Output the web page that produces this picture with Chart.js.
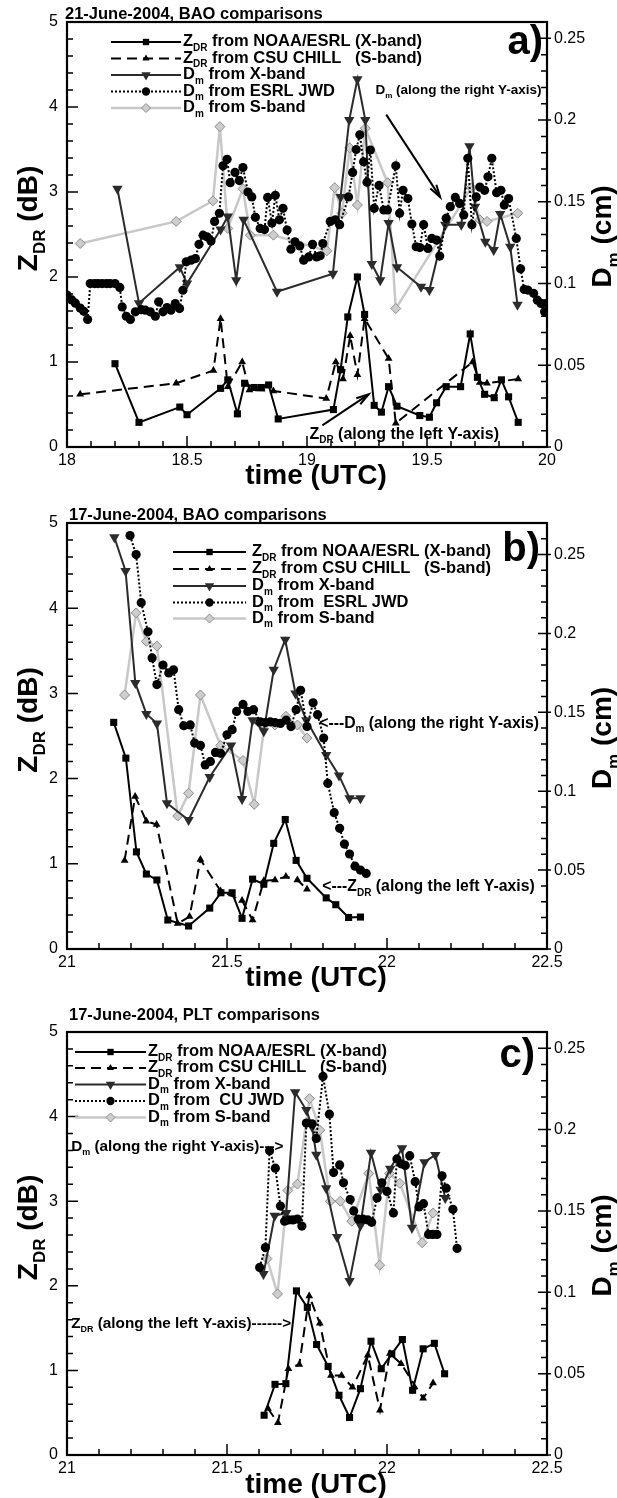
<!DOCTYPE html>
<html>
<head>
<meta charset="utf-8">
<script src="https://cdn.jsdelivr.net/npm/chart.js@4.4.1/dist/chart.umd.min.js"></script>
<style>
  body { margin: 0; background: #fff; width: 617px; height: 1498px; position: relative; overflow: hidden; }
  canvas { position: absolute; left: 0; }
</style>
</head>
<body>
<canvas id="chartA" width="617" height="500" style="top:0px"></canvas>
<canvas id="chartB" width="617" height="500" style="top:500px"></canvas>
<canvas id="chartC" width="617" height="498" style="top:1000px"></canvas>
<script>
// ---- data: [time (UTC), value] ----
// panel a) 21-June-2004, BAO
const aZdrNoaa = [[18.20,0.98],[18.30,0.29],[18.47,0.47],[18.50,0.38],[18.64,0.69],[18.67,0.79],[18.71,0.39],[18.74,0.75],[18.78,0.70],[18.81,0.70],[18.84,0.73],[18.88,0.33],[19.11,0.44],[19.14,0.91],[19.17,1.53],[19.21,2.0],[19.24,1.56],[19.28,0.49],[19.31,0.41],[19.34,0.71],[19.375,0.48],[19.47,0.37],[19.51,0.35],[19.54,0.52],[19.58,0.71],[19.64,0.71],[19.68,1.33],[19.71,0.82],[19.74,0.62],[19.78,0.58],[19.81,0.79],[19.84,0.59],[19.88,0.29]];
const aZdrCsu = [[18.055,0.62],[18.455,0.75],[18.61,0.90],[18.64,1.51],[18.67,0.71],[18.73,1.0],[18.76,0.67],[18.86,0.66],[19.08,0.57],[19.12,1.0],[19.15,0.80],[19.18,1.31],[19.21,0.85],[19.24,1.51],[19.34,1.04],[19.37,0.28],[19.69,1.0],[19.72,0.76],[19.75,0.75],[19.88,0.80]];
const aDmX = [[18.21,0.158],[18.30,0.088],[18.47,0.110],[18.50,0.100],[18.64,0.133],[18.67,0.141],[18.705,0.102],[18.736,0.139],[18.875,0.095],[19.108,0.106],[19.14,0.153],[19.176,0.200],[19.21,0.225],[19.243,0.200],[19.27,0.112],[19.305,0.102],[19.34,0.137],[19.375,0.110],[19.475,0.098],[19.51,0.096],[19.576,0.136],[19.643,0.136],[19.677,0.184],[19.70,0.147],[19.743,0.1255],[19.778,0.1205],[19.805,0.1425],[19.847,0.1225],[19.877,0.087]];
const aDmJwd = [[18.00,0.093],[18.02,0.090],[18.035,0.088],[18.055,0.085],[18.07,0.083],[18.086,0.078],[18.097,0.100],[18.115,0.100],[18.13,0.100],[18.147,0.100],[18.165,0.100],[18.18,0.100],[18.20,0.100],[18.22,0.0976],[18.23,0.0857],[18.247,0.080],[18.264,0.078],[18.285,0.0827],[18.31,0.084],[18.326,0.0837],[18.347,0.0827],[18.368,0.080],[18.382,0.0888],[18.40,0.0827],[18.417,0.0853],[18.433,0.0837],[18.451,0.0878],[18.469,0.0847],[18.483,0.0959],[18.497,0.1133],[18.517,0.1143],[18.535,0.1153],[18.55,0.124],[18.567,0.1296],[18.583,0.1286],[18.60,0.126],[18.615,0.138],[18.635,0.143],[18.65,0.172],[18.667,0.176],[18.68,0.1617],[18.70,0.168],[18.718,0.163],[18.733,0.171],[18.754,0.156],[18.77,0.153],[18.785,0.1405],[18.805,0.1337],[18.823,0.133],[18.836,0.1527],[18.854,0.137],[18.868,0.154],[18.885,0.139],[18.90,0.146],[18.917,0.1327],[18.933,0.121],[18.95,0.1255],[18.97,0.123],[18.986,0.1143],[19.007,0.1163],[19.023,0.124],[19.04,0.1163],[19.055,0.117],[19.066,0.1245],[19.097,0.138],[19.118,0.139],[19.136,0.136],[19.173,0.153],[19.19,0.168],[19.205,0.182],[19.22,0.191],[19.236,0.1745],[19.25,0.162],[19.264,0.1817],[19.28,0.146],[19.30,0.160],[19.32,0.145],[19.335,0.145],[19.37,0.172],[19.386,0.143],[19.40,0.157],[19.42,0.152],[19.437,0.1364],[19.455,0.1225],[19.47,0.122],[19.486,0.136],[19.504,0.1215],[19.52,0.1276],[19.54,0.1266],[19.553,0.1168],[19.58,0.140],[19.597,0.147],[19.618,0.1527],[19.636,0.149],[19.653,0.142],[19.67,0.1766],[19.687,0.136],[19.705,0.153],[19.72,0.159],[19.74,0.157],[19.754,0.1653],[19.77,0.1766],[19.79,0.1556],[19.808,0.157],[19.822,0.148],[19.84,0.152],[19.872,0.1276],[19.89,0.109],[19.905,0.0964],[19.92,0.096],[19.944,0.094],[19.96,0.0898],[19.975,0.0878],[19.99,0.0827],[20.0,0.0878]];
const aDmS = [[18.055,0.1245],[18.455,0.138],[18.608,0.1506],[18.637,0.196],[18.67,0.1337],[18.733,0.158],[18.764,0.1296],[18.86,0.1296],[19.083,0.120],[19.115,0.1586],[19.146,0.143],[19.178,0.183],[19.21,0.148],[19.243,0.195],[19.336,0.1617],[19.37,0.0847],[19.685,0.1586],[19.72,0.139],[19.75,0.138],[19.878,0.143]];

// panel b) 17-June-2004, BAO
const bZdrNoaa = [[21.146,2.66],[21.184,2.24],[21.217,1.14],[21.248,0.88],[21.281,0.81],[21.315,0.34],[21.38,0.27],[21.446,0.48],[21.481,0.66],[21.516,0.66],[21.547,0.36],[21.58,0.82],[21.615,0.76],[21.646,1.24],[21.682,1.52],[21.716,1.04],[21.75,0.83],[21.81,0.60],[21.84,0.52],[21.88,0.37],[21.917,0.375]];
const bZdrCsu = [[21.18,1.04],[21.213,1.79],[21.248,1.50],[21.28,1.46],[21.346,0.30],[21.383,0.38],[21.417,1.05],[21.48,0.68],[21.547,0.57],[21.58,0.34],[21.615,0.80],[21.65,0.81],[21.684,0.85],[21.72,0.81],[21.75,0.70]];
const bDmX = [[21.148,0.261],[21.183,0.2396],[21.2135,0.1686],[21.248,0.149],[21.281,0.143],[21.3125,0.0924],[21.38,0.0818],[21.446,0.109],[21.5125,0.129],[21.547,0.095],[21.58,0.145],[21.615,0.138],[21.646,0.177],[21.682,0.196],[21.714,0.162],[21.748,0.145],[21.81,0.123],[21.85,0.110],[21.883,0.0955],[21.917,0.0955]];
const bDmJwd = [[21.197,0.262],[21.216,0.250],[21.232,0.2195],[21.253,0.201],[21.266,0.1845],[21.281,0.1676],[21.30,0.180],[21.318,0.175],[21.333,0.177],[21.349,0.1517],[21.365,0.1415],[21.385,0.142],[21.399,0.1305],[21.417,0.129],[21.432,0.1167],[21.448,0.1189],[21.464,0.1246],[21.48,0.124],[21.50,0.1358],[21.516,0.139],[21.53,0.1506],[21.55,0.155],[21.565,0.1506],[21.583,0.1517],[21.604,0.144],[21.62,0.1435],[21.635,0.144],[21.65,0.1435],[21.667,0.143],[21.685,0.145],[21.70,0.141],[21.716,0.1517],[21.73,0.164],[21.75,0.141],[21.769,0.156],[21.783,0.1485],[21.802,0.1337],[21.815,0.105],[21.835,0.0864],[21.852,0.0765],[21.867,0.0665],[21.883,0.0602],[21.90,0.0525],[21.917,0.050],[21.935,0.0479]];
const bDmS = [[21.18,0.161],[21.216,0.213],[21.248,0.195],[21.281,0.192],[21.346,0.0843],[21.38,0.0987],[21.417,0.161],[21.48,0.129],[21.55,0.1195],[21.585,0.0917],[21.617,0.142],[21.65,0.142],[21.684,0.1475],[21.72,0.142],[21.75,0.1337]];

// panel c) 17-June-2004, PLT
const cZdrNoaa = [[21.616,0.47],[21.65,0.835],[21.684,0.843],[21.717,1.94],[21.751,1.745],[21.78,1.306],[21.816,1.047],[21.85,0.706],[21.883,0.443],[21.917,0.784],[21.95,1.345],[21.982,1.02],[22.015,1.196],[22.048,1.365],[22.08,0.765],[22.113,1.255],[22.148,1.32],[22.18,0.96]];
const cZdrCsu = [[21.628,0.55],[21.659,0.38],[21.692,1.02],[21.726,1.07],[21.757,1.88],[21.79,1.556],[21.825,0.94],[21.858,0.94],[21.892,0.80],[21.94,1.18],[21.978,0.53],[22.009,1.20],[22.044,1.08],[22.113,0.67],[22.144,0.85]];
const cDmX = [[21.614,0.1112],[21.649,0.147],[21.685,0.1488],[21.713,0.223],[21.748,0.212],[21.766,0.2017],[21.779,0.1845],[21.81,0.164],[21.844,0.134],[21.883,0.107],[21.917,0.141],[21.95,0.1858],[21.98,0.163],[22.01,0.176],[22.047,0.1885],[22.078,0.1397],[22.117,0.180],[22.151,0.1844],[22.182,0.158]];
const cDmJwd = [[21.602,0.1153],[21.62,0.1275],[21.633,0.187],[21.651,0.1763],[21.667,0.153],[21.68,0.1437],[21.693,0.1445],[21.706,0.1445],[21.72,0.145],[21.734,0.1407],[21.748,0.204],[21.766,0.2036],[21.779,0.1946],[21.80,0.2327],[21.82,0.2095],[21.833,0.1736],[21.852,0.1783],[21.864,0.1673],[21.885,0.157],[21.896,0.150],[21.91,0.145],[21.925,0.145],[21.94,0.1445],[21.952,0.143],[21.969,0.158],[21.984,0.1673],[22.0,0.162],[22.02,0.1488],[22.031,0.182],[22.044,0.179],[22.057,0.178],[22.071,0.184],[22.088,0.168],[22.10,0.1525],[22.114,0.1545],[22.13,0.1356],[22.143,0.1356],[22.156,0.1356],[22.172,0.1716],[22.185,0.164],[22.206,0.151],[22.219,0.127]];
const cDmS = [[21.625,0.1207],[21.658,0.099],[21.69,0.1626],[21.72,0.1665],[21.758,0.219],[21.79,0.1997],[21.823,0.156],[21.854,0.156],[21.89,0.1437],[21.943,0.173],[21.977,0.1167],[22.008,0.173],[22.04,0.167],[22.11,0.1305],[22.144,0.1487]];

const FONT = '"Liberation Sans", Arial, Helvetica, sans-serif';
const pts = arr => arr.map(p => ({ x: p[0], y: p[1] }));

// text with subscripts: parts = [[text, isSub], ...]
function richWidth(ctx, parts, size) {
  let w = 0;
  for (const [t, sub] of parts) {
    ctx.font = 'bold ' + (sub ? Math.round(size * 0.62) : size) + 'px ' + FONT;
    w += ctx.measureText(t).width;
  }
  return w;
}
function rich(ctx, x, y, parts, size) {
  let cx = x;
  for (const [t, sub] of parts) {
    ctx.font = 'bold ' + (sub ? Math.round(size * 0.62) : size) + 'px ' + FONT;
    ctx.fillText(t, cx, sub ? y + size * 0.28 : y);
    cx += ctx.measureText(t).width;
  }
}
function arrow(ctx, x0, y0, x1, y1) {
  ctx.beginPath(); ctx.moveTo(x0, y0); ctx.lineTo(x1, y1); ctx.stroke();
  const a = Math.atan2(y1 - y0, x1 - x0), L = 13, w = 0.28;
  ctx.beginPath();
  ctx.moveTo(x1 - L * Math.cos(a - w), y1 - L * Math.sin(a - w));
  ctx.lineTo(x1, y1);
  ctx.lineTo(x1 - L * Math.cos(a + w), y1 - L * Math.sin(a + w));
  ctx.stroke();
}

const ZDR = [['Z', 0], ['DR', 1]];
const DM = [['D', 0], ['m', 1]];

function makePanel(p) {
  const datasets = [
    { data: pts(p.jwd), yAxisID: 'y1', borderColor: '#000', backgroundColor: '#000', borderWidth: 2, borderDash: [2, 2],
      pointStyle: 'circle', pointRadius: 4.6, pointBorderWidth: 0 },
    { data: pts(p.dmX), yAxisID: 'y1', borderColor: '#2b2b2b', backgroundColor: '#2b2b2b', borderWidth: 2,
      pointStyle: 'triangle', pointRotation: 180, pointRadius: 6, pointBorderWidth: 0 },
    { data: pts(p.dmS), yAxisID: 'y1', borderColor: '#c8c8c8', backgroundColor: '#cdcdcd', pointBorderColor: '#8c8c8c',
      borderWidth: 2.5, pointStyle: 'rectRot', pointRadius: 5, pointBorderWidth: 1 },
    { data: pts(p.zNoaa), yAxisID: 'y', borderColor: '#000', backgroundColor: '#000', borderWidth: 2,
      pointStyle: 'rect', pointRadius: 5, pointBorderWidth: 0 },
    { data: pts(p.zCsu), yAxisID: 'y', borderColor: '#000', backgroundColor: '#000', borderWidth: 2, borderDash: [10, 6],
      pointStyle: 'triangle', pointRadius: 4.5, pointBorderWidth: 0 }
  ];
  // legend entries refer to datasets above, in the figure's order
  const legendOrder = [3, 4, 1, 0, 2];
  const legendText = [
    ZDR.concat([[' from NOAA/ESRL (X-band)', 0]]),
    ZDR.concat([[' from CSU CHILL   (S-band)', 0]]),
    DM.concat([[' from X-band', 0]]),
    DM.concat([[p.jwdName, 0]]),
    DM.concat([[' from S-band', 0]])
  ];

  const decor = {
    id: 'decor',
    afterDatasetsDraw(chart) {
      const { ctx, chartArea: a, scales } = chart;
      const sx = scales.x, sy = scales.y, sr = scales.y1;
      ctx.save();
      ctx.strokeStyle = '#000';
      ctx.lineWidth = 1.5;
      ctx.beginPath();
      // bottom ticks (inward)
      const nx = Math.round((p.xMax - p.xMin) / 0.1);
      for (let i = 0; i <= nx; i++) {
        const px = sx.getPixelForValue(p.xMin + i * 0.1);
        const len = i % 5 === 0 ? 11 : 6;
        ctx.moveTo(px, a.bottom); ctx.lineTo(px, a.bottom - len);
      }
      // left ticks
      for (let i = 0; i <= 25; i++) {
        const py = sy.getPixelForValue(i * 0.2);
        const len = i % 5 === 0 ? 11 : 6;
        ctx.moveTo(a.left, py); ctx.lineTo(a.left + len, py);
      }
      // right ticks
      for (let i = 0; i <= Math.floor(p.y1Max * 100 + 1e-6); i++) {
        const py = sr.getPixelForValue(i * 0.01);
        const len = i % 5 === 0 ? 9 : 6;
        ctx.moveTo(a.right, py); ctx.lineTo(a.right - len, py);
        if (i % 5 === 0) { ctx.moveTo(a.right, py); ctx.lineTo(a.right + 4, py); }
      }
      ctx.stroke();
      ctx.lineWidth = 2.2;
      ctx.strokeRect(a.left, a.top, a.right - a.left, a.bottom - a.top);
      ctx.restore();
    },
    afterDraw(chart) {
      const { ctx, chartArea: a, scales } = chart;
      const sx = scales.x, sy = scales.y;
      ctx.save();
      ctx.fillStyle = '#000';
      ctx.textBaseline = 'alphabetic';

      // title
      ctx.font = 'bold 16.5px ' + FONT;
      ctx.fillText(p.title, p.titleX, p.titleY);

      // panel tag
      ctx.font = 'bold 40px ' + FONT;
      ctx.textAlign = 'right';
      ctx.fillText(p.tag, p.tagX, p.tagY);
      ctx.textAlign = 'left';

      // legend
      const L = p.leg;
      legendOrder.forEach((di, k) => {
        const d = chart.data.datasets[di];
        const y = L.rows[k];
        ctx.save();
        ctx.strokeStyle = d.borderColor;
        ctx.lineWidth = d.borderWidth;
        ctx.setLineDash(d.borderDash || []);
        ctx.beginPath(); ctx.moveTo(L.x0, y); ctx.lineTo(L.x1, y); ctx.stroke();
        ctx.setLineDash([]);
        ctx.fillStyle = d.backgroundColor;
        ctx.strokeStyle = d.pointBorderColor || d.borderColor;
        ctx.lineWidth = d.pointBorderWidth;
        Chart.helpers.drawPoint(ctx, {
          pointStyle: d.pointStyle, radius: d.pointRadius * 0.9,
          rotation: d.pointRotation || 0, borderWidth: d.pointBorderWidth
        }, (L.x0 + L.x1) / 2, y);
        ctx.restore();
        rich(ctx, L.tx, y + 4, legendText[k], L.size);
      });

      // notes and arrows, placed in data coordinates
      p.notes.forEach(n => {
        rich(ctx, sx.getPixelForValue(n.t), sy.getPixelForValue(n.v) + n.size * 0.35, n.parts, n.size);
      });
      ctx.strokeStyle = '#000';
      ctx.lineWidth = 2;
      p.arrows.forEach(r => {
        arrow(ctx, sx.getPixelForValue(r[0]), sy.getPixelForValue(r[1]),
                   sx.getPixelForValue(r[2]), sy.getPixelForValue(r[3]));
      });

      // axis titles
      const big = 28;
      const tParts = [['time (UTC)', 0]];
      rich(ctx, p.timeX - richWidth(ctx, tParts, big) / 2, a.bottom + p.timeDy, tParts, big);

      const lParts = ZDR.concat([[' (dB)', 0]]);
      ctx.save();
      ctx.translate(27, (a.top + a.bottom) / 2 - 16);
      ctx.rotate(-Math.PI / 2);
      rich(ctx, -richWidth(ctx, lParts, big) / 2, big * 0.36, lParts, big);
      ctx.restore();

      const rParts = DM.concat([[' (cm)', 0]]);
      ctx.save();
      ctx.translate(601, (a.top + a.bottom) / 2 + 2);
      ctx.rotate(-Math.PI / 2);
      rich(ctx, -richWidth(ctx, rParts, big) / 2, big * 0.36, rParts, big);
      ctx.restore();

      ctx.restore();
    }
  };

  const tickFont = { family: FONT, size: 16 };
  new Chart(document.getElementById(p.id), {
    type: 'line',
    data: { datasets },
    options: {
      responsive: false,
      animation: false,
      devicePixelRatio: 1,
      layout: { padding: { top: p.top, left: 0, right: 0, bottom: 0 } },
      plugins: { legend: { display: false }, tooltip: { enabled: false } },
      elements: { line: { tension: 0 } },
      scales: {
        x: {
          type: 'linear', min: p.xMin, max: p.xMax,
          grid: { display: false, drawTicks: false }, border: { display: false },
          ticks: { stepSize: 0.5, autoSkip: false, maxRotation: 0, color: '#000', font: tickFont, padding: 4,
                   callback: v => String(v) },
          afterFit: s => { s.height = p.xH; }
        },
        y: {
          position: 'left', min: 0, max: 5,
          grid: { display: false, drawTicks: false }, border: { display: false },
          ticks: { stepSize: 1, color: '#000', font: tickFont, padding: 9 },
          afterFit: s => { s.width = 67; }
        },
        y1: {
          position: 'right', min: 0, max: p.y1Max,
          grid: { display: false, drawTicks: false }, border: { display: false },
          ticks: { stepSize: 0.05, includeBounds: false, color: '#000', font: tickFont, padding: 7,
                   callback: v => String(+v.toFixed(2)) },
          afterFit: s => { s.width = 70; }
        }
      }
    },
    plugins: [decor]
  });
}

makePanel({
  id: 'chartA', xMin: 18, xMax: 20, y1Max: 0.26, top: 22, xH: 53,
  jwd: aDmJwd, dmX: aDmX, dmS: aDmS, zNoaa: aZdrNoaa, zCsu: aZdrCsu,
  jwdName: ' from ESRL JWD',
  title: '21-June-2004, BAO comparisons', titleX: 65, titleY: 19,
  tag: 'a)', tagX: 543, tagY: 54,
  leg: { x0: 111, x1: 181, tx: 183, size: 16.5, rows: [42, 58.5, 75, 91.5, 108] },
  notes: [
    { parts: DM.concat([[' (along the right Y-axis)', 0]]), t: 19.285, v: 4.21, size: 13.5 },
    { parts: ZDR.concat([[' (along the left Y-axis)', 0]]), t: 19.01, v: 0.16, size: 16 }
  ],
  arrows: [[19.33, 3.91, 19.555, 2.94], [19.064, 0.255, 19.257, 0.62]],
  timeX: 316, timeDy: 37
});

makePanel({
  id: 'chartB', xMin: 21, xMax: 22.5, y1Max: 0.27, top: 23, xH: 51,
  jwd: bDmJwd, dmX: bDmX, dmS: bDmS, zNoaa: bZdrNoaa, zCsu: bZdrCsu,
  jwdName: ' from  ESRL JWD',
  title: '17-June-2004, BAO comparisons', titleX: 69, titleY: 20,
  tag: 'b)', tagX: 540, tagY: 61,
  leg: { x0: 173, x1: 246, tx: 252, size: 16.5, rows: [52, 69, 86, 102.5, 118.5] },
  notes: [
    { parts: [['<---D', 0], ['m', 1], [' (along the right Y-axis)', 0]], t: 21.788, v: 2.66, size: 15.8 },
    { parts: [['<---Z', 0], ['DR', 1], [' (along the left Y-axis)', 0]], t: 21.798, v: 0.74, size: 15.8 }
  ],
  arrows: [],
  timeX: 316, timeDy: 37
});

makePanel({
  id: 'chartC', xMin: 21, xMax: 22.5, y1Max: 0.26, top: 32, xH: 43,
  jwd: cDmJwd, dmX: cDmX, dmS: cDmS, zNoaa: cZdrNoaa, zCsu: cZdrCsu,
  jwdName: ' from  CU JWD',
  title: '17-June-2004, PLT comparisons', titleX: 69, titleY: 20,
  tag: 'c)', tagX: 535, tagY: 67,
  leg: { x0: 75, x1: 146, tx: 148, size: 16.5, rows: [52, 68, 84.5, 101, 117.5] },
  notes: [
    { parts: DM.concat([[' (along the right Y-axis)--->', 0]]), t: 21.013, v: 3.66, size: 15.3 },
    { parts: ZDR.concat([[' (along the left Y-axis)------>', 0]]), t: 21.013, v: 1.57, size: 15.3 }
  ],
  arrows: [],
  timeX: 316, timeDy: 38
});
</script>
</body>
</html>
